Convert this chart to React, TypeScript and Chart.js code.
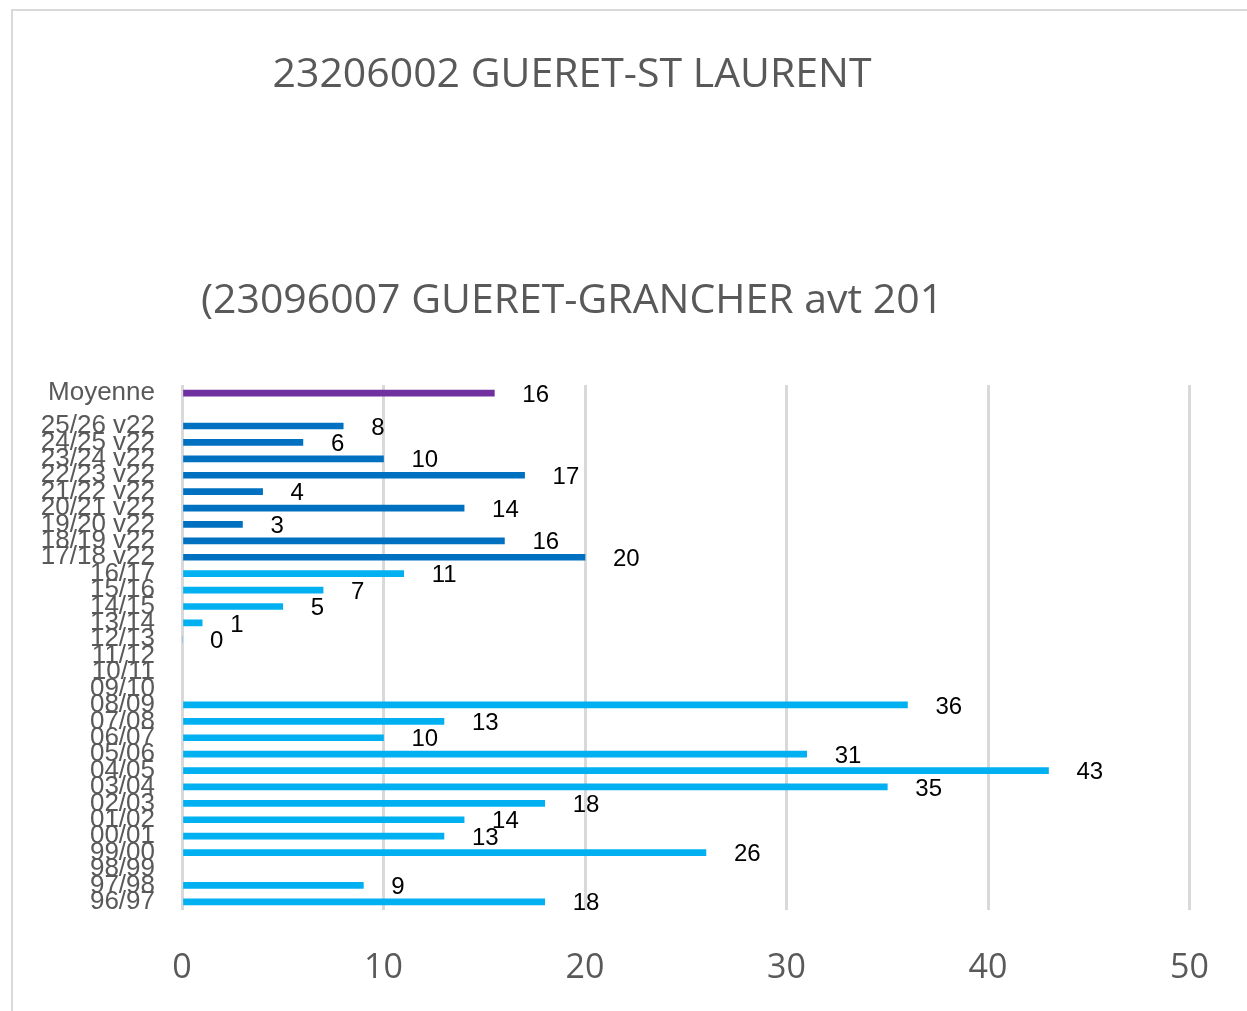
import React, { useEffect, useRef } from "react";
import { Chart, registerables } from "chart.js";

Chart.register(...registerables);

const titleLine1 = "23206002 GUERET-ST LAURENT";
const titleLine2 = "(23096007 GUERET-GRANCHER avt 201";

const categories = [
  "Moyenne", "",
  "25/26 v22", "24/25 v22", "23/24 v22", "22/23 v22", "21/22 v22", "20/21 v22", "19/20 v22", "18/19 v22", "17/18 v22",
  "16/17", "15/16", "14/15", "13/14", "12/13", "11/12", "10/11", "09/10", "08/09", "07/08", "06/07",
  "05/06", "04/05", "03/04", "02/03", "01/02", "00/01", "99/00", "98/99", "97/98", "96/97",
];

const values: (number | null)[] = [
  15.5, null,
  8, 6, 10, 17, 4, 14, 3, 16, 20,
  11, 7, 5, 1, 0, null, null, null, 36, 13, 10,
  31, 43, 35, 18, 14, 13, 26, null, 9, 18,
];

const groups = [
  "avg", "none",
  "v22", "v22", "v22", "v22", "v22", "v22", "v22", "v22", "v22",
  "old", "old", "old", "old", "old", "old", "old", "old", "old", "old", "old",
  "old", "old", "old", "old", "old", "old", "old", "old", "old", "old",
];

const xTicks = [0, 10, 20, 30, 40, 50];

const groupColors: Record<string, string> = {
  avg: "#7030A0",
  v22: "#0070C0",
  old: "#00B0F0",
  none: "#00B0F0",
};

export default function App() {
  const ref = useRef<HTMLCanvasElement | null>(null);

  useEffect(() => {
    if (!ref.current) return;
    const frame = {
      id: "frame",
      beforeDraw(chart: any) {
        const ctx = chart.ctx;
        ctx.save();
        ctx.fillStyle = "#ffffff";
        ctx.fillRect(0, 0, chart.width, chart.height);
        ctx.strokeStyle = "#d9d9d9";
        ctx.lineWidth = 2;
        ctx.strokeRect(12, 10, 1400, 1200);
        ctx.fillStyle = "#595959";
        ctx.font = "41px 'Open Sans', 'Liberation Sans', sans-serif";
        ctx.textAlign = "center";
        ctx.textBaseline = "middle";
        ctx.fillText(titleLine1, 572, 75);
        ctx.fillText(titleLine2, 572, 301);
        ctx.restore();
      },
    };
    const labels = {
      id: "valueLabels",
      afterDatasetsDraw(chart: any) {
        const ctx = chart.ctx;
        const meta = chart.getDatasetMeta(0);
        ctx.save();
        ctx.fillStyle = "#000000";
        ctx.font = "24px 'Liberation Sans', sans-serif";
        ctx.textAlign = "left";
        ctx.textBaseline = "middle";
        meta.data.forEach((el: any, i: number) => {
          const v = values[i];
          if (v === null || v === undefined) return;
          ctx.fillText(String(Math.round(v)), el.x + 28, el.y + 2);
        });
        ctx.restore();
      },
    };
    const chart = new Chart(ref.current, {
      type: "bar",
      data: {
        labels: categories,
        datasets: [
          {
            data: values,
            backgroundColor: groups.map((g) => groupColors[g]),
            barThickness: 6,
          },
        ],
      },
      options: {
        indexAxis: "y",
        animation: false,
        responsive: false,
        maintainAspectRatio: false,
        layout: { padding: { top: 385, right: 52, bottom: 0, left: 0 } },
        plugins: {
          legend: { display: false },
          title: { display: false },
          tooltip: { enabled: false },
        },
        scales: {
          x: {
            min: 0,
            max: 50,
            afterBuildTicks: (scale: any) => {
              scale.ticks = xTicks.map((v) => ({ value: v }));
            },
            afterFit: (scale: any) => {
              scale.height = 101;
            },
            grid: { color: "#d9d9d9", lineWidth: 3, drawTicks: false },
            border: { display: false },
            ticks: {
              color: "#595959",
              font: { size: 34, family: "'Open Sans', 'Liberation Sans', sans-serif" },
              padding: 38,
            },
          },
          y: {
            afterFit: (scale: any) => {
              scale.width = 182;
            },
            grid: { display: false, drawTicks: false },
            border: { display: false },
            ticks: {
              autoSkip: false,
              color: "#595959",
              font: { size: 26, family: "'Liberation Sans', sans-serif" },
              padding: 27,
            },
          },
        },
      } as any,
      plugins: [frame, labels],
    });
    return () => chart.destroy();
  }, []);

  return (
    <div style={{ position: "absolute", left: 0, top: 0, width: 1247, height: 1011, overflow: "hidden" }}>
      <canvas ref={ref} width={1247} height={1011} style={{ width: 1247, height: 1011 }} />
    </div>
  );
}
